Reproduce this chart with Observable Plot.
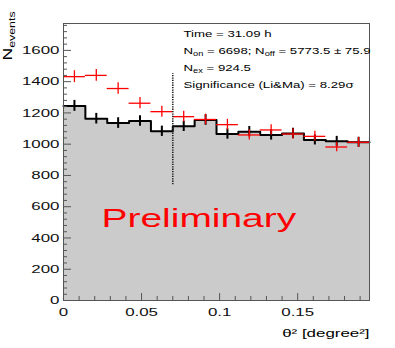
<!DOCTYPE html>
<html>
<head>
<meta charset="utf-8">
<script src="https://cdn.jsdelivr.net/npm/d3@7"></script>
<script src="https://cdn.jsdelivr.net/npm/@observablehq/plot@0.6"></script>
<style>
html, body { margin: 0; padding: 0; background: #fff; }
#chart svg { display: block; }
</style>
</head>
<body>
<div id="chart"></div>
<script>
// ---- data ----
const thetaSq = [0.007, 0.021, 0.035, 0.049, 0.063, 0.077, 0.091, 0.105, 0.119, 0.133, 0.147, 0.161, 0.175, 0.189];
const binWidth = 0.014;
const nOn     = [1432, 1440, 1356, 1262, 1208, 1176, 1158, 1125, 1059, 1091, 1065, 1050, 982, 1012];
const nOnErr  = [38, 38, 37, 36, 35, 34, 34, 34, 33, 33, 33, 32, 31, 32];
const nOff    = [1245, 1163, 1135, 1148, 1082.5, 1114, 1155, 1065, 1080, 1059, 1069, 1027, 1018, 1012];
const nOffErr = [35, 34, 34, 34, 33, 33, 34, 33, 33, 33, 33, 32, 32, 32];
const cutTheta = [0.07];
const cutRange = [740, 1450];
const yMajorTicks = [0, 200, 400, 600, 800, 1000, 1200, 1400, 1600];
const yMinorTicks = [40, 80, 120, 160, 240, 280, 320, 360, 440, 480, 520, 560, 640, 680, 720, 760,
  840, 880, 920, 960, 1040, 1080, 1120, 1160, 1240, 1280, 1320, 1360, 1440, 1480, 1520, 1560, 1640, 1680, 1720, 1760];
const xMajorTicks = [0, 0.05, 0.1, 0.15];
const xMinorTicks = [0.01, 0.02, 0.03, 0.04, 0.06, 0.07, 0.08, 0.09, 0.11, 0.12, 0.13, 0.14, 0.16, 0.17, 0.18, 0.19];
const statsLines = [
  "Time = 31.09 h",
  "N_{on} = 6698; N_{off} = 5773.5 ± 75.9",
  "N_{ex} = 924.5",
  "Significance (Li&Ma) = 8.29σ"
];
const watermark = ["Preliminary"];
const xTitle = ["θ² [degree²]"];
const yTitle = ["N_{events}"];

// ---- derived tables ----
const bins = thetaSq.map((c, i) => ({
  c, lo: c - binWidth / 2, hi: c + binWidth / 2,
  on: nOn[i], onErr: nOnErr[i], off: nOff[i], offErr: nOffErr[i]
}));
const stepPts = bins.flatMap(b => [{x: b.lo, y: b.off}, {x: b.hi, y: b.off}]);

const axisColor = "#555";
const statsBaselines = [13, 30, 47, 64];

const chart = Plot.plot({
  width: 395,
  height: 348,
  marginLeft: 63,
  marginRight: 26,
  marginTop: 23,
  marginBottom: 48,
  style: {fontFamily: "'Liberation Sans', Arial, sans-serif", background: "#fff", color: "#000"},
  x: {domain: [0, 0.196]},
  y: {domain: [0, 1772]},
  marks: [
    Plot.areaY(stepPts, {x: "x", y1: 0, y2: "y", fill: "#cbcbcb"}),
    Plot.line(stepPts, {x: "x", y: "y", stroke: "#000", strokeWidth: 2}),
    Plot.ruleX(bins, {x: "c", y1: d => d.off - d.offErr, y2: d => d.off + d.offErr, stroke: "#000", strokeWidth: 2}),
    Plot.ruleY(bins, {y: "on", x1: "lo", x2: "hi", stroke: "#f00", strokeWidth: 1.3}),
    Plot.ruleX(bins, {x: "c", y1: d => d.on - d.onErr, y2: d => d.on + d.onErr, stroke: "#f00", strokeWidth: 1.3}),
    Plot.ruleX(cutTheta, {x: d => d, y1: cutRange[0], y2: cutRange[1], stroke: "#222", strokeWidth: 1.6, strokeDasharray: "1.3,1.1"}),
    Plot.frame({stroke: axisColor, strokeWidth: 1}),
    // y axis
    Plot.axisY(yMajorTicks, {tickSize: 0, tickPadding: 4, fontSize: 11.5, tickFormat: d => String(d), label: null, fill: "#111"}),
    Plot.axisY(yMajorTicks, {tickSize: -8, fill: "none", stroke: axisColor, label: null}),
    Plot.axisY(yMinorTicks, {tickSize: -4, fill: "none", stroke: axisColor, label: null}),
    // x axis
    Plot.axisX(xMajorTicks, {tickSize: 0, tickPadding: 7, fontSize: 11.5, tickFormat: d => String(d), label: null, fill: "#111"}),
    Plot.axisX(xMajorTicks, {tickSize: -7, fill: "none", stroke: axisColor, label: null}),
    Plot.axisX(xMinorTicks, {tickSize: -4, fill: "none", stroke: axisColor, label: null}),
    // texts
    Plot.text(watermark, {text: d => d, frameAnchor: "top-left", dx: 38, dy: 203, textAnchor: "start", lineAnchor: "bottom", fill: "#f00", fontSize: 26.5}),
    ...statsLines.map((s, i) => Plot.text([s], {text: d => d, frameAnchor: "top-left", dx: 120, dy: statsBaselines[i], textAnchor: "start", lineAnchor: "bottom", fill: "#000", fontSize: 9})),
    Plot.text(xTitle, {text: d => d, frameAnchor: "bottom-right", dx: 0, dy: 36, textAnchor: "end", lineAnchor: "bottom", fill: "#000", fontSize: 11.5}),
    Plot.text(yTitle, {text: d => d, frameAnchor: "top-left", dx: -52, dy: 37, rotate: -90, textAnchor: "start", lineAnchor: "bottom", fill: "#000", fontSize: 12, ariaLabel: "y-title"})
  ]
});

document.getElementById("chart").appendChild(chart);

// ---- post-processing: subscripts and the horizontally stretched text of the original ----
const NS = "http://www.w3.org/2000/svg";
function richify(t, subScale, subShift) {
  const s = t.textContent;
  if (!/_\{/.test(s)) return;
  const fs = parseFloat(getComputedStyle(t).fontSize) || 10;
  t.textContent = "";
  const parts = s.split(/(_\{[^}]*\})/).filter(p => p.length);
  let down = false;
  for (const p of parts) {
    const ts = document.createElementNS(NS, "tspan");
    const m = p.match(/^_\{(.*)\}$/);
    if (m) {
      ts.textContent = m[1];
      ts.setAttribute("font-size", (fs * subScale).toFixed(2));
      ts.setAttribute("dy", (fs * subShift).toFixed(2));
      down = true;
    } else {
      ts.textContent = p;
      if (down) { ts.setAttribute("dy", (-fs * subShift).toFixed(2)); down = false; }
    }
    t.appendChild(ts);
  }
}
const yTitleG = chart.querySelector('g[aria-label="y-title"]');
chart.querySelectorAll("text").forEach(t => {
  const isY = yTitleG && yTitleG.contains(t);
  if (isY) richify(t, 0.62, 0.62); else richify(t, 0.7, 0.3);
  const tr = t.getAttribute("transform");
  const sx = isY ? 1.15 : 1.47;
  if (tr) t.setAttribute("transform", tr + ` scale(${sx},1)`);
});
</script>
</body>
</html>
